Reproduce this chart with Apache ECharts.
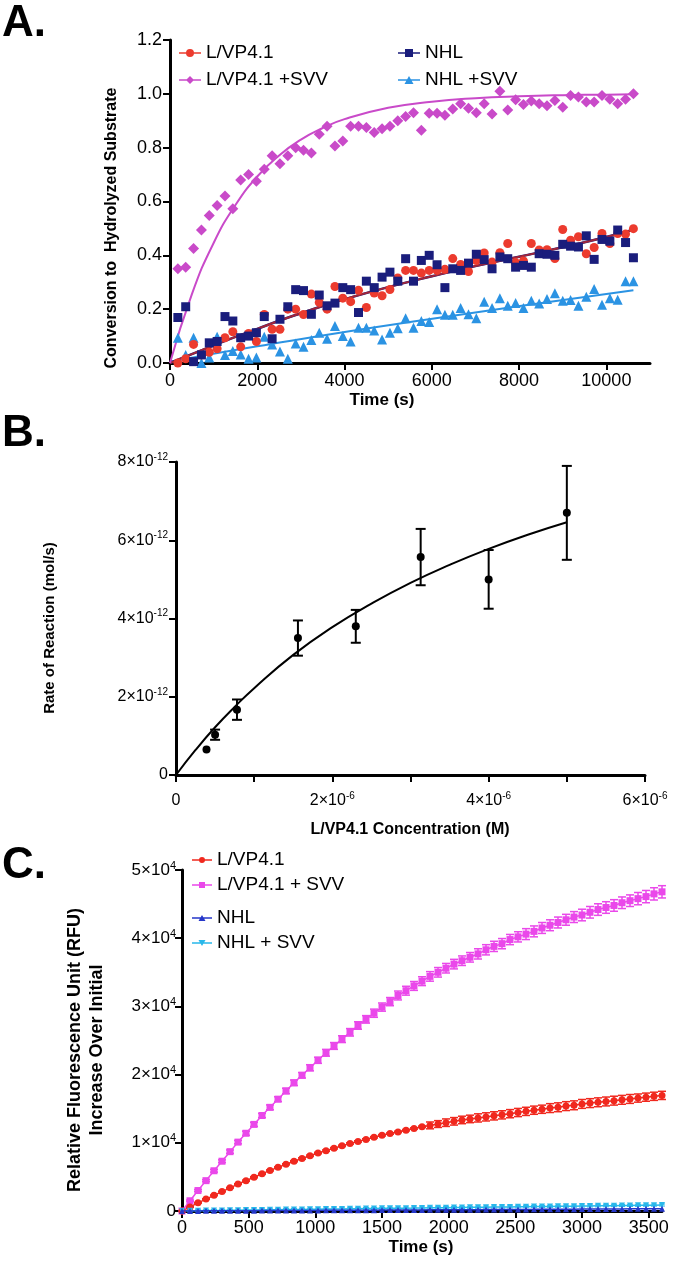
<!DOCTYPE html>
<html>
<head>
<meta charset="utf-8">
<script src="https://cdn.jsdelivr.net/npm/echarts@6.0.0/dist/echarts.min.js"></script>
<style>
  body { margin: 0; background: #fff; }
  .panel { position: absolute; left: 0; width: 677px; }
</style>
</head>
<body>
<div id="chartA" class="panel" style="top:0;height:410px"></div>
<div id="chartB" class="panel" style="top:410px;height:432px"></div>
<div id="chartC" class="panel" style="top:842px;height:424px"></div>
<script>
// ---------- Panel A: conversion vs time ----------
const timeA = [180, 360, 540, 720, 900, 1080, 1260, 1440, 1620, 1800, 1980, 2160, 2340, 2520, 2700, 2880, 3060, 3240, 3420, 3600,
  3780, 3960, 4140, 4320, 4500, 4680, 4860, 5040, 5220, 5400, 5580, 5760, 5940, 6120, 6300, 6480, 6660, 6840, 7020, 7200,
  7380, 7560, 7740, 7920, 8100, 8280, 8460, 8640, 8820, 9000, 9180, 9360, 9540, 9720, 9900, 10080, 10260, 10440, 10620]
const lvpA = [0.0, 0.016, 0.069, 0.03, 0.04, 0.053, 0.094, 0.116, 0.06, 0.11, 0.08, 0.18, 0.125, 0.125, 0.20, 0.20, 0.18, 0.256, 0.225, 0.20,
  0.284, 0.241, 0.228, 0.27, 0.206, 0.26, 0.25, 0.273, 0.316, 0.344, 0.344, 0.334, 0.344, 0.344, 0.348, 0.388, 0.366, 0.34, 0.381, 0.409,
  0.375, 0.41, 0.444, 0.373, 0.379, 0.444, 0.42, 0.421, 0.388, 0.496, 0.456, 0.469, 0.406, 0.429, 0.481, 0.444, 0.481, 0.479, 0.499]
const lvpSvvA = [0.35, 0.356, 0.425, 0.494, 0.548, 0.585, 0.62, 0.573, 0.68, 0.70, 0.675, 0.72, 0.77, 0.74, 0.77, 0.80, 0.79, 0.78, 0.85, 0.88,
  0.806, 0.825, 0.88, 0.88, 0.875, 0.856, 0.87, 0.88, 0.90, 0.916, 0.93, 0.865, 0.928, 0.928, 0.92, 0.944, 0.963, 0.946, 0.93, 0.963,
  0.925, 1.01, 0.94, 0.978, 0.96, 0.973, 0.963, 0.956, 0.975, 0.95, 0.994, 0.988, 0.97, 0.97, 0.994, 0.98, 0.963, 0.98, 1.0]
const nhlA = [0.169, 0.209, 0.005, 0.03, 0.075, 0.08, 0.1725, 0.156, 0.094, 0.10, 0.1125, 0.1725, 0.09, 0.1625, 0.209, 0.2725, 0.269, 0.181, 0.2525, 0.2125,
  0.2225, 0.28, 0.2725, 0.1875, 0.304, 0.28, 0.319, 0.3375, 0.304, 0.3875, 0.304, 0.381, 0.40, 0.365, 0.28, 0.35, 0.344, 0.371, 0.404, 0.384,
  0.35, 0.394, 0.3875, 0.356, 0.3625, 0.356, 0.406, 0.404, 0.40, 0.441, 0.434, 0.431, 0.4725, 0.385, 0.459, 0.4525, 0.494, 0.4475, 0.391]
const nhlSvvA = [0.094, 0.03, 0.094, 0.0, 0.02, 0.0975, 0.03, 0.045, 0.032, 0.016, 0.02, 0.0975, 0.069, 0.043, 0.016, 0.072, 0.06, 0.085, 0.1125, 0.09,
  0.1375, 0.10, 0.08, 0.131, 0.131, 0.121, 0.0875, 0.1125, 0.129, 0.166, 0.131, 0.156, 0.1525, 0.20, 0.179, 0.179, 0.204, 0.181, 0.166, 0.2275,
  0.204, 0.241, 0.2125, 0.2225, 0.204, 0.231, 0.221, 0.2375, 0.259, 0.231, 0.234, 0.2125, 0.246, 0.275, 0.216, 0.241, 0.235, 0.304, 0.304]

// fitted curves
const fitTimeA = [0, 500, 1000, 1500, 2000, 2500, 3000, 3500, 4000, 5000, 6000, 7000, 8000, 9000, 10000, 10620]
const lvpSvvFitA = [0, 0.255, 0.446, 0.587, 0.693, 0.771, 0.83, 0.873, 0.906, 0.948, 0.971, 0.984, 0.991, 0.995, 0.997, 0.998]
const lvpFitA = [0, 0.033, 0.065, 0.097, 0.127, 0.157, 0.185, 0.212, 0.237, 0.282, 0.322, 0.36, 0.395, 0.43, 0.468, 0.495]
const nhlSvvFitTimeA = [0, 2000, 5500, 10620]
const nhlSvvFitA = [0.005, 0.062, 0.152, 0.27]

// ---------- Panel B: rate vs concentration (x in 1e-6 M, y in 1e-12 mol/s) ----------
const concB = [0.39, 0.5, 0.78, 1.56, 2.3, 3.13, 4.0, 5.0]
const rateB = [0.65, 1.03, 1.67, 3.5, 3.8, 5.57, 5.0, 6.7]
const rateErrB = [0, 0.13, 0.26, 0.45, 0.42, 0.72, 0.75, 1.2]
const fitConcB = [0, 0.25, 0.5, 0.75, 1, 1.5, 2, 2.5, 3, 3.5, 4, 4.5, 5]
const fitRateB = [0, 0.64, 1.22, 1.74, 2.22, 3.07, 3.78, 4.38, 4.91, 5.37, 5.78, 6.14, 6.46]

// ---------- Panel C: fluorescence vs time ----------
const timeC = [0, 60, 120, 180, 240, 300, 360, 420, 480, 540, 600, 660, 720, 780, 840, 900, 960, 1020, 1080, 1140,
  1200, 1260, 1320, 1380, 1440, 1500, 1560, 1620, 1680, 1740, 1800, 1860, 1920, 1980, 2040, 2100, 2160, 2220, 2280, 2340,
  2400, 2460, 2520, 2580, 2640, 2700, 2760, 2820, 2880, 2940, 3000, 3060, 3120, 3180, 3240, 3300, 3360, 3420, 3480, 3540, 3600]
const lvpC = [0, 600, 1200, 1750, 2300, 2850, 3400, 3950, 4450, 4950, 5450, 5950, 6400, 6850, 7300, 7700, 8100, 8500, 8850, 9200,
  9550, 9900, 10200, 10500, 10800, 11100, 11350, 11600, 11850, 12100, 12350, 12550, 12750, 12950, 13150, 13350, 13500, 13650, 13800, 13950,
  14100, 14270, 14440, 14610, 14780, 14920, 15090, 15210, 15380, 15500, 15700, 15820, 15940, 16060, 16180, 16300, 16430, 16560, 16690, 16820, 16950]
const lvpErrC = [0, 50, 50, 50, 50, 50, 50, 50, 80, 80, 80, 80, 80, 80, 80, 100, 100, 100, 100, 100,
  100, 100, 100, 100, 100, 100, 100, 100, 100, 100, 100, 500, 500, 550, 550, 550, 550, 600, 600, 600,
  600, 600, 600, 600, 600, 600, 650, 650, 650, 650, 650, 650, 650, 650, 650, 650, 650, 600, 600, 600, 600]
const lvpSvvC = [0, 1500, 3000, 4450, 5900, 7300, 8700, 10100, 11400, 12700, 14000, 15200, 16400, 17600, 18800, 19900, 21000, 22100, 23200, 24200,
  25200, 26200, 27200, 28100, 29000, 29900, 30700, 31600, 32300, 33000, 33700, 34400, 35000, 35600, 36200, 36700, 37200, 37700, 38300, 38800,
  39200, 39800, 40200, 40600, 41000, 41500, 41900, 42300, 42700, 43100, 43400, 43800, 44200, 44500, 44800, 45200, 45500, 45800, 46100, 46500, 46800]
const lvpSvvErrC = [0, 100, 150, 150, 200, 200, 250, 250, 300, 300, 300, 350, 350, 400, 400, 400, 450, 450, 500, 500,
  500, 550, 550, 550, 600, 600, 600, 650, 650, 650, 650, 700, 700, 700, 700, 700, 700, 750, 750, 750,
  750, 750, 750, 800, 800, 800, 800, 800, 800, 800, 850, 850, 850, 850, 850, 850, 850, 900, 900, 900, 900]
const nhlC = [0, 10, 15, 20, 25, 30, 35, 40, 45, 50, 55, 60, 65, 70, 75, 80, 85, 90, 95, 100,
  105, 110, 115, 120, 125, 130, 135, 140, 145, 150, 160, 165, 170, 175, 180, 190, 195, 200, 205, 210,
  220, 225, 230, 235, 240, 250, 255, 260, 265, 270, 280, 285, 290, 295, 300, 310, 315, 320, 325, 330, 340]
const nhlSvvC = [0, 20, 40, 55, 70, 85, 100, 115, 130, 145, 160, 175, 190, 205, 220, 235, 250, 265, 280, 295,
  310, 325, 340, 355, 370, 385, 400, 410, 420, 430, 445, 460, 475, 490, 505, 520, 535, 550, 565, 575,
  585, 600, 615, 630, 645, 660, 675, 690, 700, 710, 725, 740, 755, 770, 785, 800, 815, 830, 845, 860, 875]
const nhlErrC = [0, 150, 150, 150, 150, 150, 150, 150, 150, 150, 150, 150, 150, 150, 150, 150, 150, 150, 150, 150,
  150, 150, 150, 150, 150, 150, 150, 150, 150, 150, 150, 150, 150, 150, 150, 150, 150, 150, 150, 150,
  150, 150, 150, 150, 150, 150, 150, 150, 150, 150, 150, 150, 150, 150, 150, 150, 150, 150, 150, 150, 150]

const FONT = "'Liberation Sans', Arial, sans-serif"
const FONT_TITLE = "'Liberation Sans Narrow', 'Liberation Sans', Arial, sans-serif"

const colorsA = { lvp: '#ec3b2e', lvpSvv: '#c94ac9', nhl: '#1a1d7c', nhlSvv: '#2b93e3', fit: '#a3263a' }
const colorsC = { lvp: '#f0281e', lvpSvv: '#ea48ea', nhl: '#2637c9', nhlSvv: '#29b8ea' }

// legend icons: short line with the marker in the middle
const iconsA = {
  circle: 'path://M0,4.2H22V5.8H0Z M15,5A4,4 0 1,1 7,5A4,4 0 1,1 15,5Z',
  square: 'path://M0,4.2H22V5.8H0Z M7,1H15V9H7Z',
  diamond: 'path://M0,4.2H22V5.8H0Z M11,1L15,5L11,9L7,5Z',
  triangle: 'path://M0,4.2H22V5.8H0Z M11,1L15.5,9H6.5Z'
}
const iconsC = {
  circle: 'path://M0,2.3H20V3.7H0Z M13,3A3,3 0 1,1 7,3A3,3 0 1,1 13,3Z',
  square: 'path://M0,2.3H20V3.7H0Z M7,0H13V6H7Z',
  triangle: 'path://M0,2.3H20V3.7H0Z M10,0L13.5,6H6.5Z',
  triangleDown: 'path://M0,2.3H20V3.7H0Z M6.5,0H13.5L10,6Z'
}

const axisBase = {
  type: 'value',
  axisLine: { show: true, onZero: false, lineStyle: { color: '#000', width: 3 } },
  axisTick: { show: true, length: 7, lineStyle: { color: '#000', width: 2 } },
  splitLine: { show: false }
}

const supRich = size => ({
  n: { fontSize: size, fontFamily: FONT, color: '#000', lineHeight: 20 },
  e: { fontSize: Math.round(size * 0.62), fontFamily: FONT, color: '#000', lineHeight: 11, verticalAlign: 'top' }
})

function pairs(xs, ys) {
  return xs.map((x, i) => [x, ys[i]])
}

function errorData(xs, ys, errs) {
  return xs.map((x, i) => [x, ys[i] - errs[i], ys[i] + errs[i], errs[i]]).filter(d => d[3] > 0)
}

function errorBars(capHalf, color, width) {
  return (params, api) => {
    const top = api.coord([api.value(0), api.value(2)])
    const bot = api.coord([api.value(0), api.value(1)])
    const style = { stroke: color, lineWidth: width }
    return {
      type: 'group',
      children: [
        { type: 'line', shape: { x1: top[0], y1: top[1], x2: bot[0], y2: bot[1] }, style },
        { type: 'line', shape: { x1: top[0] - capHalf, y1: top[1], x2: top[0] + capHalf, y2: top[1] }, style },
        { type: 'line', shape: { x1: bot[0] - capHalf, y1: bot[1], x2: bot[0] + capHalf, y2: bot[1] }, style }
      ]
    }
  }
}

function letter(text) {
  return { type: 'text', left: 2, top: 2, style: { text, font: `bold 44px ${FONT}`, fill: '#000' } }
}

function vTitle(text, x, y, size) {
  return {
    type: 'text', x, y, rotation: Math.PI / 2,
    style: { text, font: `bold ${size}px ${FONT_TITLE}`, fill: '#000', align: 'center', verticalAlign: 'middle' }
  }
}

function hTitle(text, x, y, size) {
  return {
    type: 'text', x, y,
    style: { text, font: `bold ${size}px ${FONT_TITLE}`, fill: '#000', align: 'center', verticalAlign: 'middle' }
  }
}

const plainNumber = v => String(v)

// ---------- chart A ----------
const chartA = echarts.init(document.getElementById('chartA'))
chartA.setOption({
  animation: false,
  grid: { left: 170, top: 40, width: 480, height: 323, outerBoundsMode: 'none' },
  xAxis: {
    ...axisBase, min: 0, max: 11000, interval: 2000,
    axisLabel: { fontSize: 18, fontFamily: FONT, color: '#000', margin: 9, showMaxLabel: false, formatter: plainNumber }
  },
  yAxis: {
    ...axisBase, min: 0, max: 1.2, interval: 0.2,
    axisLabel: { fontSize: 18, fontFamily: FONT, color: '#000', margin: 8, formatter: v => v.toFixed(1) }
  },
  legend: [
    {
      orient: 'vertical', left: 174, top: 38, itemWidth: 22, itemHeight: 8, itemGap: 7,
      textStyle: { fontSize: 19, fontFamily: FONT, color: '#000', lineHeight: 20 },
      data: [
        { name: 'L/VP4.1', icon: iconsA.circle },
        { name: 'L/VP4.1 +SVV', icon: iconsA.diamond }
      ]
    },
    {
      orient: 'vertical', left: 393, top: 38, itemWidth: 22, itemHeight: 8, itemGap: 7,
      textStyle: { fontSize: 19, fontFamily: FONT, color: '#000', lineHeight: 20 },
      data: [
        { name: 'NHL', icon: iconsA.square },
        { name: 'NHL +SVV', icon: iconsA.triangle }
      ]
    }
  ],
  graphic: [
    letter('A.'),
    vTitle('Conversion to  Hydrolyzed Substrate', 112, 228, 16),
    hTitle('Time (s)', 382, 400, 17)
  ],
  series: [
    { name: 'NHL +SVV fit', type: 'line', data: pairs(nhlSvvFitTimeA, nhlSvvFitA), smooth: true, symbol: 'none',
      lineStyle: { color: colorsA.nhlSvv, width: 2 }, z: 1 },
    { name: 'NHL fit', type: 'line', data: pairs(fitTimeA, lvpFitA), smooth: true, symbol: 'none',
      lineStyle: { color: colorsA.nhl, width: 2.5 }, z: 1 },
    { name: 'L/VP4.1 fit', type: 'line', data: pairs(fitTimeA, lvpFitA), smooth: true, symbol: 'none',
      lineStyle: { color: colorsA.fit, width: 2 }, z: 1 },
    { name: 'L/VP4.1 +SVV fit', type: 'line', data: pairs(fitTimeA, lvpSvvFitA), smooth: true, symbol: 'none',
      lineStyle: { color: colorsA.lvpSvv, width: 2 }, z: 1 },
    { name: 'NHL +SVV', type: 'scatter', data: pairs(timeA, nhlSvvA), symbol: 'triangle', symbolSize: 10,
      itemStyle: { color: colorsA.nhlSvv, opacity: 1 }, z: 2 },
    { name: 'L/VP4.1', type: 'scatter', data: pairs(timeA, lvpA), symbol: 'circle', symbolSize: 9,
      itemStyle: { color: colorsA.lvp, opacity: 1 }, z: 3 },
    { name: 'NHL', type: 'scatter', data: pairs(timeA, nhlA), symbol: 'rect', symbolSize: 9,
      itemStyle: { color: colorsA.nhl, opacity: 1 }, z: 4 },
    { name: 'L/VP4.1 +SVV', type: 'scatter', data: pairs(timeA, lvpSvvA), symbol: 'diamond', symbolSize: 11,
      itemStyle: { color: colorsA.lvpSvv, opacity: 1 }, z: 4 }
  ]
})

// ---------- chart B ----------
const chartB = echarts.init(document.getElementById('chartB'))
chartB.setOption({
  animation: false,
  grid: { left: 176, top: 52, width: 469, height: 313, outerBoundsMode: 'none' },
  xAxis: {
    ...axisBase, min: 0, max: 6, interval: 1,
    axisLabel: {
      margin: 16, rich: supRich(16),
      formatter: v => (v === 0 ? '{n|0}' : v % 2 === 0 ? `{n|${v}×10}{e|-6}` : '')
    }
  },
  yAxis: {
    ...axisBase, min: 0, max: 8, interval: 2,
    axisLabel: {
      margin: 8, rich: supRich(16),
      formatter: v => (v === 0 ? '{n|0}' : `{n|${v}×10}{e|-12}`)
    }
  },
  graphic: [
    letter('B.'),
    vTitle('Rate of Reaction (mol/s)', 50, 218, 15),
    hTitle('L/VP4.1 Concentration (M)', 410, 420, 16)
  ],
  series: [
    { name: 'fit', type: 'line', data: pairs(fitConcB, fitRateB), smooth: true, symbol: 'none',
      lineStyle: { color: '#000', width: 2 }, z: 2 },
    { name: 'error', type: 'custom', renderItem: errorBars(5, '#000', 2),
      data: errorData(concB, rateB, rateErrB), encode: { x: 0, y: [1, 2] }, z: 3 },
    { name: 'rate', type: 'scatter', data: pairs(concB, rateB), symbol: 'circle', symbolSize: 8,
      itemStyle: { color: '#000', opacity: 1 }, z: 4 }
  ]
})

// ---------- chart C ----------
const chartC = echarts.init(document.getElementById('chartC'))
const legendTextC = { fontSize: 19, fontFamily: FONT, color: '#000', lineHeight: 20 }
chartC.setOption({
  animation: false,
  grid: { left: 182, top: 28, width: 480, height: 341, outerBoundsMode: 'none' },
  xAxis: {
    ...axisBase, min: 0, max: 3600, interval: 500,
    axisLabel: { fontSize: 18, fontFamily: FONT, color: '#000', margin: 8, showMaxLabel: false, formatter: plainNumber }
  },
  yAxis: {
    ...axisBase, min: 0, max: 50000, interval: 10000,
    axisLabel: {
      margin: 6, rich: supRich(17),
      formatter: v => (v === 0 ? '{n|0}' : `{n|${v / 10000}×10}{e|4}`)
    }
  },
  legend: [
    {
      orient: 'vertical', left: 187, top: 3, itemWidth: 20, itemHeight: 6, itemGap: 5,
      textStyle: legendTextC,
      data: [
        { name: 'L/VP4.1', icon: iconsC.circle },
        { name: 'L/VP4.1 + SVV', icon: iconsC.square }
      ]
    },
    {
      orient: 'vertical', left: 187, top: 61, itemWidth: 20, itemHeight: 6, itemGap: 5,
      textStyle: legendTextC,
      data: [
        { name: 'NHL', icon: iconsC.triangle },
        { name: 'NHL + SVV', icon: iconsC.triangleDown }
      ]
    }
  ],
  graphic: [
    letter('C.'),
    vTitle('Relative Fluorescence Unit (RFU)', 75, 208, 18),
    vTitle('Increase Over Initial', 97, 208, 18),
    hTitle('Time (s)', 421, 405, 17)
  ],
  series: [
    { name: 'err pink', type: 'custom', renderItem: errorBars(4, colorsC.lvpSvv, 1.5),
      data: errorData(timeC, lvpSvvC, lvpSvvErrC), encode: { x: 0, y: [1, 2] }, z: 2 },
    { name: 'err red', type: 'custom', renderItem: errorBars(4, colorsC.lvp, 1.5),
      data: errorData(timeC, lvpC, lvpErrC), encode: { x: 0, y: [1, 2] }, z: 2 },
    { name: 'err nhlsvv', type: 'custom', renderItem: errorBars(3, colorsC.nhlSvv, 1),
      data: errorData(timeC, nhlSvvC, nhlErrC), encode: { x: 0, y: [1, 2] }, z: 2 },
    { name: 'L/VP4.1 + SVV', type: 'line', data: pairs(timeC, lvpSvvC), symbol: 'rect', symbolSize: 7,
      lineStyle: { color: colorsC.lvpSvv, width: 1.5 }, itemStyle: { color: colorsC.lvpSvv }, z: 3 },
    { name: 'L/VP4.1', type: 'line', data: pairs(timeC, lvpC), symbol: 'circle', symbolSize: 7,
      lineStyle: { color: colorsC.lvp, width: 1.5 }, itemStyle: { color: colorsC.lvp }, z: 3 },
    { name: 'NHL + SVV', type: 'line', data: pairs(timeC, nhlSvvC), symbol: 'path://M0,0H10L5,9Z', symbolSize: 6,
      lineStyle: { color: colorsC.nhlSvv, width: 1.5 }, itemStyle: { color: colorsC.nhlSvv }, z: 3 },
    { name: 'NHL', type: 'line', data: pairs(timeC, nhlC), symbol: 'triangle', symbolSize: 6,
      lineStyle: { color: colorsC.nhl, width: 1.5 }, itemStyle: { color: colorsC.nhl }, z: 4 }
  ]
})

window.addEventListener('resize', () => {
  chartA.resize()
  chartB.resize()
  chartC.resize()
})
</script>
</body>
</html>
